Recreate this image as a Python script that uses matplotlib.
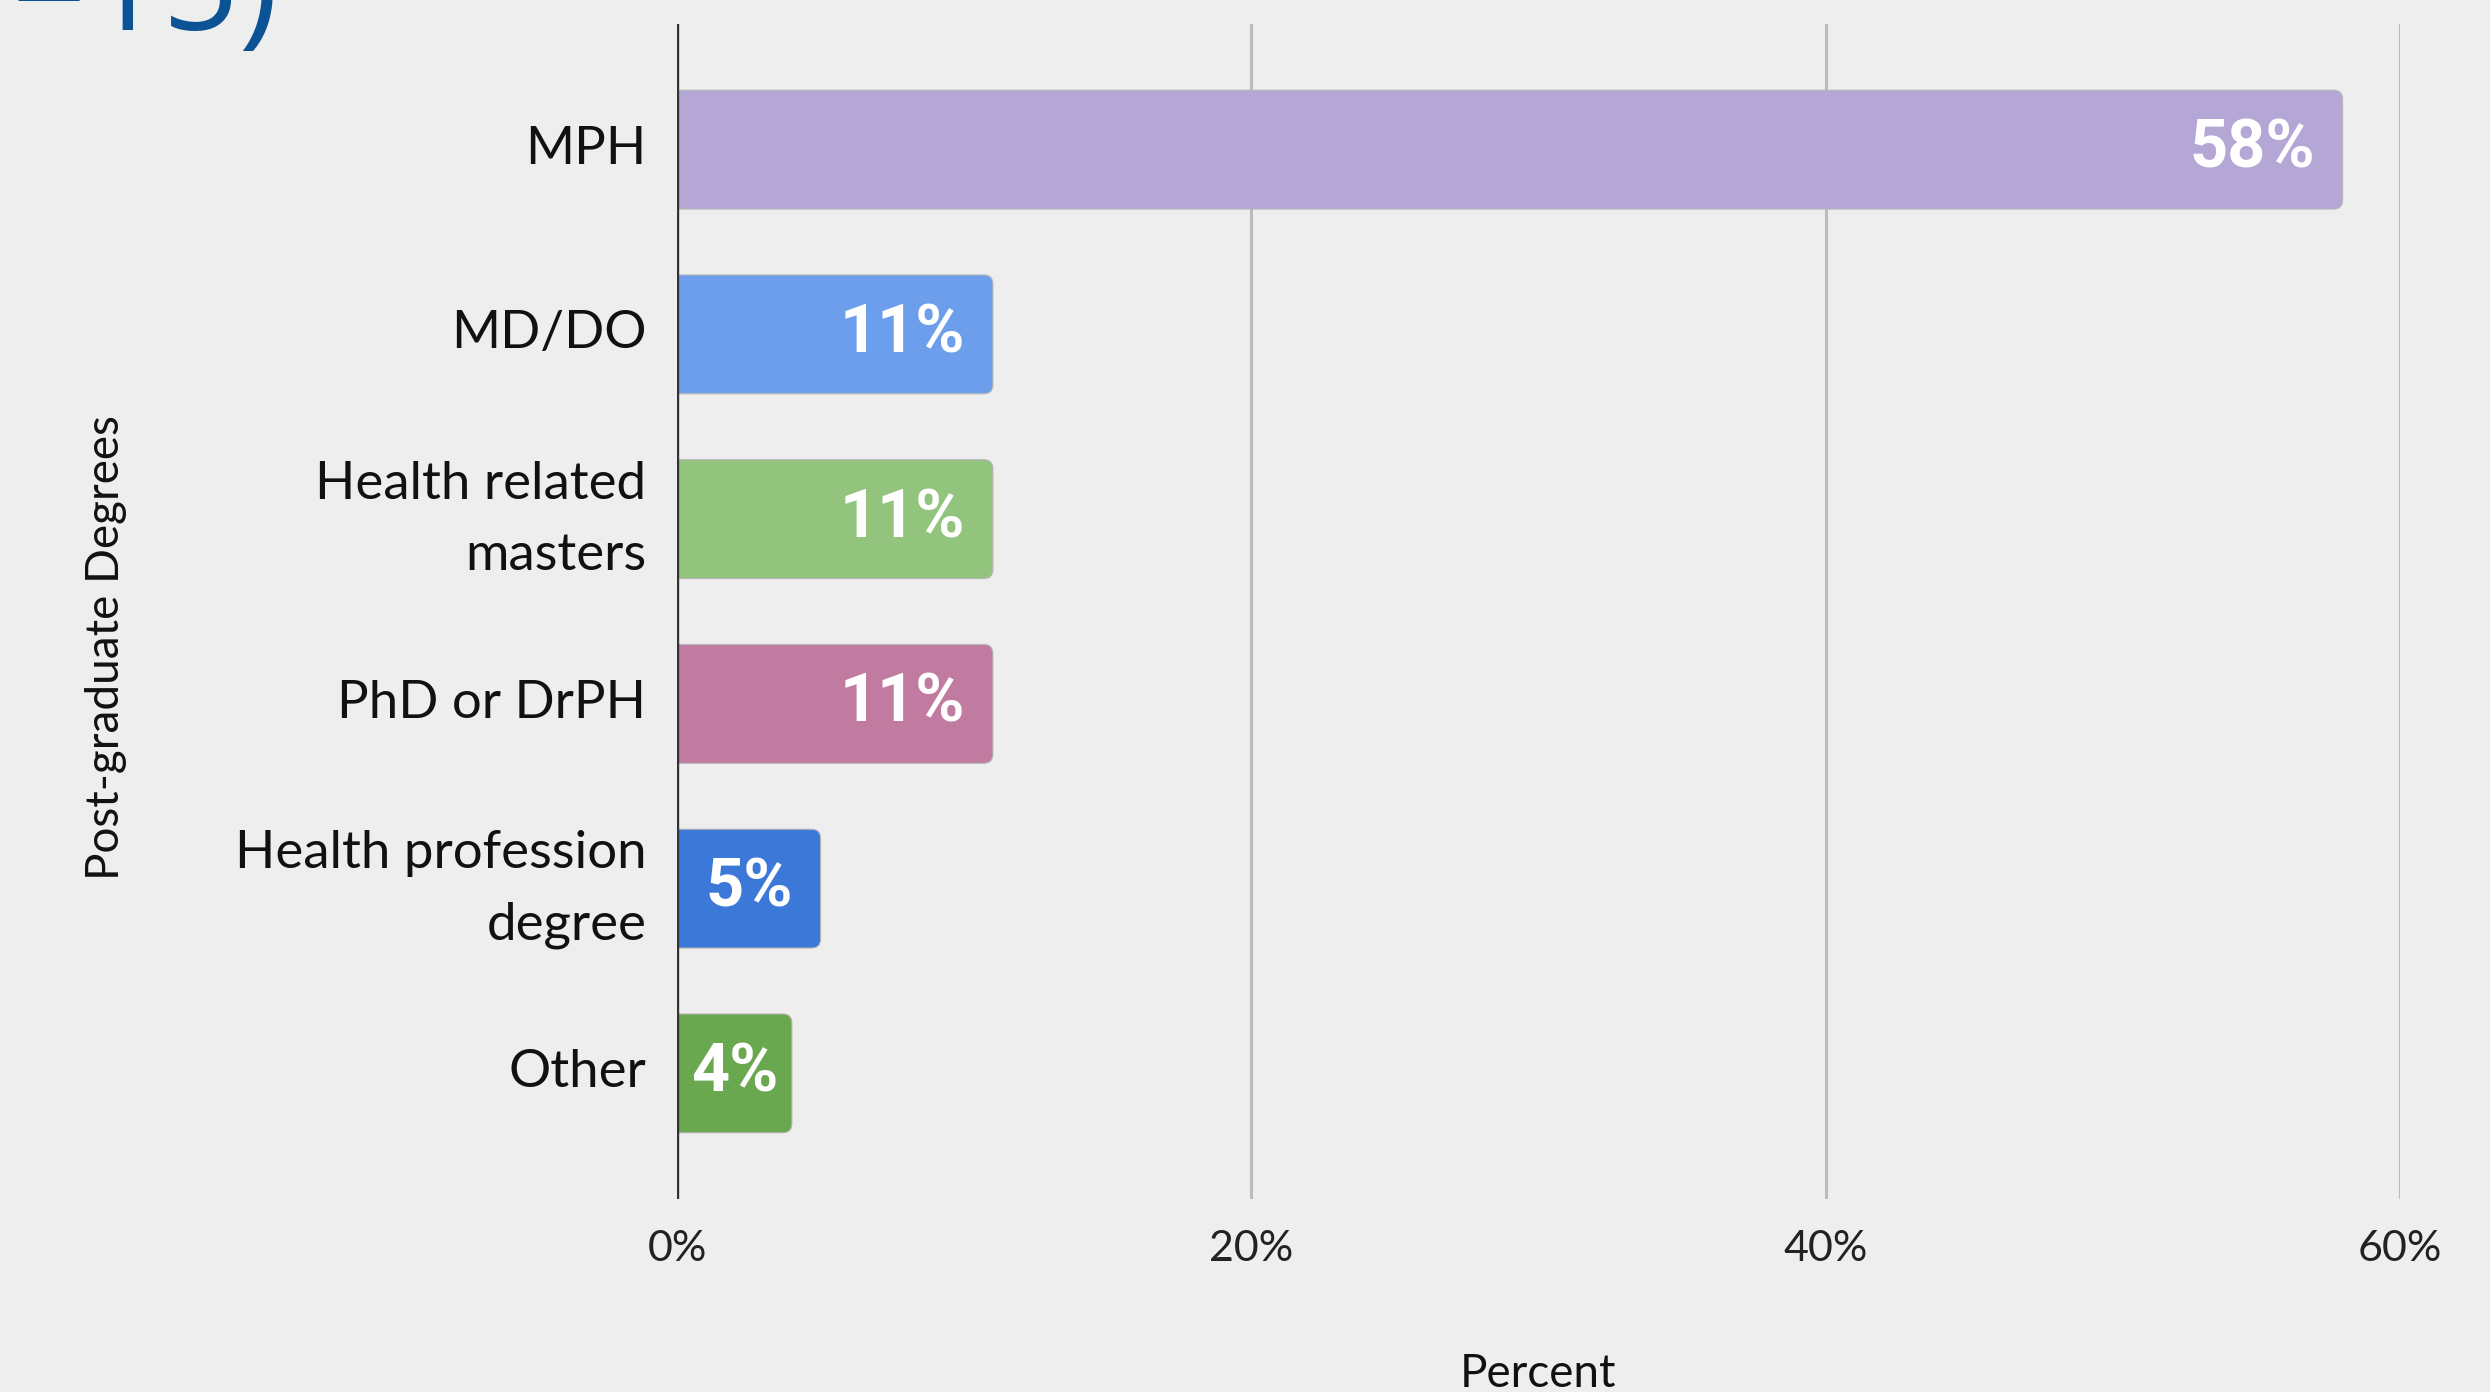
import matplotlib
matplotlib.use("Agg")
import matplotlib.pyplot as plt
import matplotlib.transforms as mtransforms
from matplotlib.ticker import FuncFormatter, FixedLocator
from matplotlib.patches import FancyBboxPatch

categories = ["MPH", "MD/DO", "Health related\nmasters", "PhD or DrPH",
              "Health profession\ndegree", "Other"]
values = [58, 11, 11, 11, 5, 4]
value_labels = ["58%", "11%", "11%", "11%", "5%", "4%"]
bar_colors = ["#b4a7d6", "#6d9eeb", "#93c47d", "#c27ba0", "#3c78d8", "#6aa84f"]
xticks = [0, 20, 40, 60]
x_title = "Percent"
y_title = "Post-graduate Degrees"
top_fragment = "=15)"

BG = "#eeeeee"
W, H = 2490, 1392
DPI = 100
fig = plt.figure(figsize=(W / DPI, H / DPI), dpi=DPI, facecolor=BG)
ax_l, ax_r, ax_t, ax_b = 677, 2400, 24, 1199
ax = fig.add_axes([ax_l / W, 1 - ax_b / H, (ax_r - ax_l) / W, (ax_b - ax_t) / H])
ax.set_facecolor(BG)

XMAX = 60
YPAD = 0.68
ypos = list(range(len(categories)))
bars = ax.barh(ypos, values, height=0.643, color=bar_colors, zorder=3)

ax.set_xlim(0, XMAX)
ax.set_ylim(len(categories) - 1 + YPAD, -YPAD)

# rounded-corner versions of the bars
px_x = (ax_r - ax_l) / XMAX
px_y = (ax_b - ax_t) / (len(categories) - 1 + 2 * YPAD)
r_px = 9
for b, c in zip(bars, bar_colors):
    b.set_visible(False)
    x0 = b.get_x() - 0.5
    p = FancyBboxPatch((x0, b.get_y()), b.get_width() + 0.5, b.get_height(),
                       boxstyle=f"round,pad=0,rounding_size={r_px / px_x}",
                       mutation_aspect=px_x / px_y,
                       facecolor=c, edgecolor="#b5b5b5", linewidth=0.8,
                       zorder=3)
    ax.add_patch(p)

for s in ax.spines.values():
    s.set_visible(False)
ax.xaxis.set_major_locator(FixedLocator(xticks))
ax.xaxis.set_major_formatter(FuncFormatter(lambda v, p: f"{int(v)}%"))
ax.grid(axis="x", color="#bcbcbc", linewidth=2.2, zorder=0)
ax.axvline(0, color="#333333", linewidth=2.4, zorder=4)
ax.tick_params(axis="x", length=0, pad=22, labelsize=31, labelcolor="#222222")
ax.tick_params(axis="y", length=0, pad=22, labelsize=38, labelcolor="#111111")
ax.set_yticks(ypos)
ax.set_yticklabels(categories, linespacing=1.65, fontfamily="Lato")
for lab in ax.get_yticklabels():
    dy = 16 if "\n" in lab.get_text() else 5
    lab.set_transform(lab.get_transform() +
                      mtransforms.ScaledTranslation(0, dy / DPI, fig.dpi_scale_trans))
for lab in ax.get_xticklabels():
    lab.set_fontfamily("Lato")

for b, v, lab in zip(bars, values, value_labels):
    yc = b.get_y() + b.get_height() / 2
    if v >= 10:
        ax.annotate(lab, (v, yc), xytext=(-28, 0), textcoords="offset pixels",
                    ha="right", va="center", color="white", fontsize=48,
                    fontweight="bold", fontfamily="Roboto", zorder=5)
    else:
        ax.annotate(lab, (v / 2, yc), ha="center", va="center", color="white",
                    fontsize=48, fontweight="bold", fontfamily="Roboto", zorder=5)

fig.text((ax_l + ax_r) / 2 / W, 1 - 1374 / H, x_title, ha="center", va="center",
         fontsize=33, fontfamily="Lato", color="#111111")
fig.text(106 / W, 1 - 648 / H, y_title, ha="center", va="center", rotation=90,
         fontsize=33, fontfamily="Lato", color="#111111")
fig.text(10 / W, 1 - 30 / H, top_fragment, ha="left", va="baseline",
         fontsize=96, fontfamily="Open Sans", color="#0b5394")

fig.savefig("out.png", dpi=DPI, facecolor=BG)
